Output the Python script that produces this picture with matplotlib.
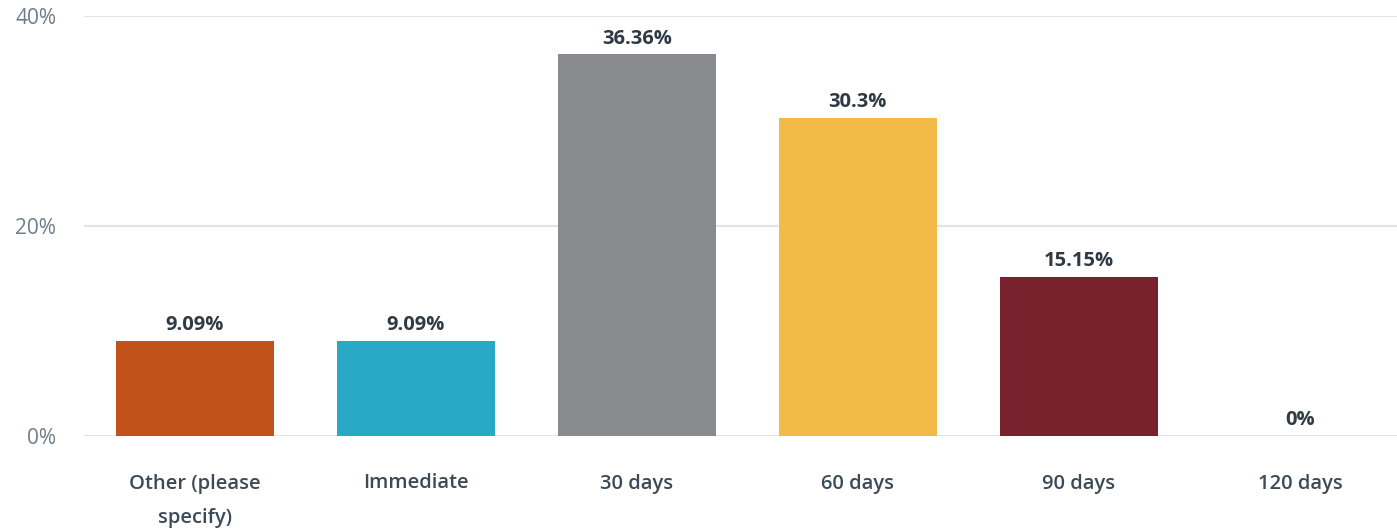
import matplotlib
matplotlib.use("Agg")
import matplotlib.pyplot as plt

categories = ["Other (please\nspecify)", "Immediate", "30 days", "60 days", "90 days", "120 days"]
values = [9.09, 9.09, 36.36, 30.3, 15.15, 0]
value_labels = ["9.09%", "9.09%", "36.36%", "30.3%", "15.15%", "0%"]
colors = ["#C1531A", "#29A9C5", "#898A8D", "#F3BA48", "#78222E", "#5B7A2E"]
yticks = [0, 20, 40]
ytick_labels = ["0%", "20%", "40%"]

plt.rcParams['font.family'] = ['Open Sans', 'DejaVu Sans']

fig = plt.figure(figsize=(13.97, 5.30), dpi=100)
ax = fig.add_axes([84/1397, 94/530, (1397-84)/1397, 420/530])

x = list(range(len(categories)))
ax.bar(x, values, width=0.715, color=colors, zorder=3)
for xi, v, lab in zip(x, values, value_labels):
    ax.annotate(lab, (xi, v), xytext=(0, 4), textcoords="offset points",
                ha="center", va="bottom", fontsize=14.5, fontweight="bold", color="#2f3a44")

ax.set_xlim(-0.5, 5.439)
ax.set_ylim(0, 40)
ax.set_yticks(yticks)
ax.set_yticklabels(ytick_labels, fontsize=15, color="#6f7c88")
ax.set_xticks(x)
ax.set_xticklabels(categories, fontsize=14.5, fontweight="semibold", color="#3c4a57",
                   linespacing=2.0, va="top")
ax.tick_params(axis="x", length=0, pad=27)
ax.tick_params(axis="y", length=0, pad=20)
ax.grid(axis="y", color="#e3e3e3", linewidth=1.5, zorder=0)
for s in ax.spines.values():
    s.set_visible(False)

fig.savefig("out.png", dpi=100)
